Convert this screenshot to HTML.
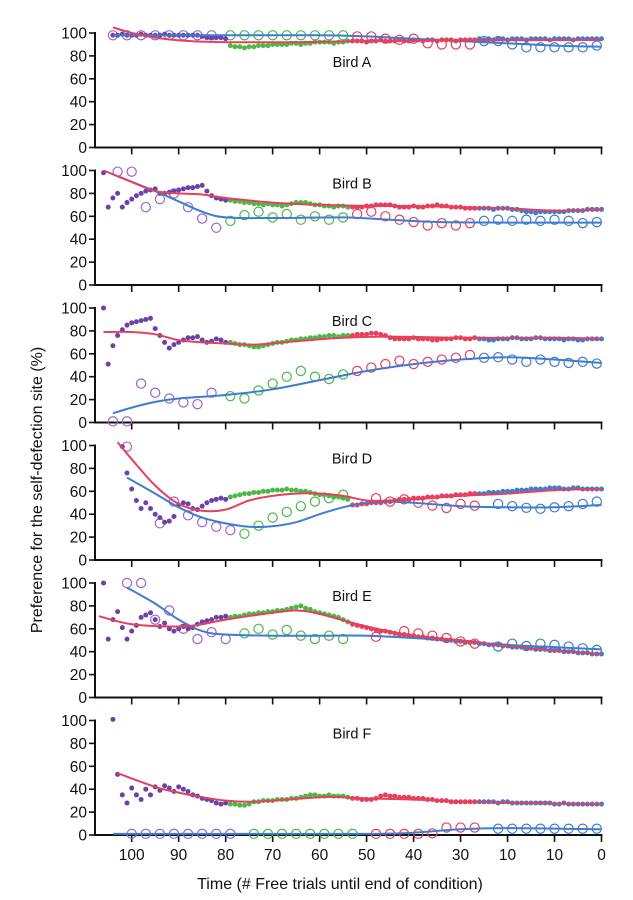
<!DOCTYPE html>
<html><head><meta charset="utf-8">
<style>
html,body{margin:0;padding:0;background:#fff;}
svg{display:block;font-family:"Liberation Sans",sans-serif;}
</style></head>
<body>
<svg id="chart" width="633" height="900" viewBox="0 0 633 900" xmlns="http://www.w3.org/2000/svg">
<text x="0" y="0" transform="translate(42,490) rotate(-90)" text-anchor="middle" font-size="16" fill="#111">Preference for the self-defection site (%)</text>
<text x="340" y="889" text-anchor="middle" font-size="16" fill="#111">Time (# Free trials until end of condition)</text>
</svg>
<script>
const birdNames = ["Bird A","Bird B","Bird C","Bird D","Bird E","Bird F"];
const labelOffsets = [34,18,18,18,18,18];
const xTickValues = [100,90,80,70,60,50,40,30,20,10,0];
const xTickLabels = ["100","90","80","70","60","50","40","30","10","10","0"];
const yTickValues = [0,20,40,60,80,100];
// filled dots: start trial, one value per trial counting down to 0
const dotStart = [104,106,106,102,106,104];
const dotValues = [
[98,98,99,98,98,98,99,98,98,98,98,99,98,98,98,98,98,98,98,97,96,96,96,96,95,
 89,88,88,87,88,88,89,89,89,90,90,90,90,91,91,90,91,91,92,92,92,92,91,92,92,93,
 93,93,93,92,93,93,94,93,93,93,94,93,93,94,94,93,94,94,93,94,94,94,93,94,94,94,94,
 95,94,95,94,95,95,94,95,95,95,94,95,95,95,95,94,95,95,95,95,94,95,95,95,95,95,95],
[98,68,76,80,68,72,75,78,80,82,83,84,80,80,81,82,83,84,85,85,86,87,82,78,76,75,74,
 74,73,73,72,72,71,71,70,71,70,70,69,70,71,72,72,72,71,70,70,69,69,68,69,69,68,
 68,68,68,69,69,70,70,70,70,69,68,68,68,69,68,68,69,69,70,69,69,68,68,68,67,67,67,
 67,67,67,66,67,67,67,66,66,65,64,64,63,64,64,64,64,64,64,65,65,65,65,66,66,66,66],
[100,51,67,76,81,85,87,88,89,90,91,82,76,70,65,68,70,72,74,74,75,72,70,71,73,72,70,
 70,69,68,68,67,66,66,67,68,69,70,70,71,72,72,73,73,74,74,75,75,76,76,75,76,76,
 76,77,77,77,78,78,77,76,74,73,73,73,73,74,73,73,73,72,72,73,73,73,74,74,73,73,74,
 73,73,72,72,73,73,73,74,74,73,73,73,74,74,73,73,73,73,72,73,73,72,72,73,73,73,73],
[99,76,62,52,45,50,45,40,37,33,34,38,48,50,49,45,44,47,50,52,53,54,53,
 55,56,57,58,58,59,59,60,60,61,61,61,62,61,61,60,60,59,58,57,57,56,55,55,54,53,
 48,48,49,49,50,50,50,51,51,52,53,53,53,54,54,54,55,55,55,56,56,56,57,57,57,58,58,
 58,58,59,59,59,60,60,60,61,61,61,62,62,62,62,63,63,63,62,62,63,63,62,62,62,62,62],
[100,51,68,75,61,51,58,63,70,72,74,68,62,65,60,58,60,62,60,61,64,66,67,68,70,70,71,
 70,71,71,72,73,73,74,74,75,75,76,76,77,78,79,80,78,77,75,74,73,72,71,70,68,66,
 64,63,62,61,60,59,58,58,57,56,55,55,54,54,53,53,52,52,51,51,50,50,49,49,48,48,48,
 47,47,46,46,46,45,45,44,44,44,43,43,42,42,42,41,41,41,40,40,40,39,39,39,38,38,38],
[101,53,35,28,41,35,31,40,35,42,39,43,41,38,42,40,38,35,34,32,31,30,28,27,28,
 27,27,26,26,27,29,29,30,30,30,31,31,31,32,32,33,34,35,35,34,34,35,34,34,34,33,
 32,32,31,31,31,32,34,35,34,34,33,33,33,32,32,32,31,31,30,30,30,29,29,29,29,29,29,
 29,29,29,29,28,29,29,28,28,28,28,28,28,28,28,28,27,27,28,27,27,27,27,27,27,27,27]
];
// open circles per phase
const openPurpleT = [[104,101,98,95,92,89,86,83],[103,100,97,94,91,88,85,82],[104,101,98,95,92,89,86,83],[101,94,91,88,85,82,79],[101,98,95,92,89,86,83,80],[100,97,94,91,88,85,82,79]];
const openPurpleV = [[98,98,98,98,98,98,98,98],[99,99,68,75,80,68,58,50],[1,1,34,26,21,17.5,16,26],[99,32,51,39,33,29,26],[100,100,68,76,60,51,57,51],[1,1,1,1,1,1,1,1]];
const openGreenT = [[79,76,73,70,67,64,61,58,55],[79,76,73,70,67,64,61,58,55],[79,76,73,70,67,64,61,58,55],[76,73,70,67,64,61,58,55],[76,73,70,67,64,61,58,55],[74,71,68,65,62,59,56,53]];
const openGreenV = [[98,98,98,98,98,98,98,98,98],[56,61,64,59,62,57,60,57,59],[23,21,28,34,40,45,40,38,42],[23,30,37,42,47,51,54,57],[56,60,55,59,54,51,54,51],[1,1,1,1,1,1,1,1]];
const openRedT = [[52,49,46,43,40,37,34,31,28],[52,49,46,43,40,37,34,31,28],[52,49,46,43,40,37,34,31,28],[48,45,42,39,36,33,30,27],[48,42,39,36,33,30,27],[48,45,42,39,36,33,30,27]];
const openRedV = [[97,97,95,94,95,91,90,90,90],[62,64,60,57,55,52,54,52,54],[45,48,51,54,51,53,55,56.5,59],[54,51,53,50,47.5,45.5,49,47.5],[53,58,56,54,52,49,47],[1,1,1,1,1.5,6.5,6.5,6.5]];
const openBlueT = [[25,22,19,16,13,10,7,4,1],[25,22,19,16,13,10,7,4,1],[25,22,19,16,13,10,7,4,1],[22,19,16,13,10,7,4,1],[22,19,16,13,10,7,4,1],[22,19,16,13,10,7,4,1]];
const openBlueV = [[93,93,90,87.5,87.5,87.5,87.5,87.5,89],[56,57,56,57,56,57,56,54,55],[56.5,57,55,53,55,53,52,53,51.5],[49,47,45.6,44.7,46,47,49,51],[44.5,47,45,47,46,44.5,43,41.5],[5.5,5.5,5.5,5.5,5.5,5.5,5.5,5.5]];
// fitted curves
const redFitT = [[104,100,95,88,80,75,65,50,30,0],[106,100,95,90,85,80,70,60,50,40,30,20,10,0],[106,100,95,90,85,80,74,65,55,45,30,10,0],[103,100,95,90,85,80,75,70,65,60,55,50,45,40,30,20,10,0],[107,100,90,85,80,70,65,60,50,40,30,20,10,0],[103,95,90,85,80,75,70,60,55,50,40,30,20,0]];
const redFitV = [[105,100,96,93,92,92,92,93,93.5,94],[100,90,82,80,79,76,72,70,69,69,68,67,65,66],[79,79,77,72,70,69,68,71,74,75,74,74,73],[103,88,65,49,43,44,52,56,58,58,56,52,52,53,56,58,61,62],[71,64,62,64,68,74,76,73,62,54,50,45,41,38],[54,42,37,33,30,29,30,33,33,32,31,29,28,27]];
const blueFitT = [[104,80,60,50,40,25,10,0],[103,95,90,85,80,70,55,45,35,20,0],[104,100,95,90,80,70,60,50,40,30,20,10,0],[101,95,90,85,80,75,70,65,60,55,50,45,40,30,20,10,0],[101,95,90,85,80,70,60,50,40,30,20,10,0],[104,80,50,40,30,20,0]];
const blueFitV = [[98,98,98,97,95,92,89,88],[95,82,73,64,59,58.5,59,57,55,54.5,54.5],[8,13,18,21,24,29,37,45,51,55,57,55,52],[72,58,46,37,32,29,29.5,33,40,46,50,51,50,47,46,46,48],[96,82,68,58,55,54,54,54,52,49,46,44,42],[1,1,1,2,5,6,5]];

const NS="http://www.w3.org/2000/svg";
const svg=document.getElementById('chart');
const X0=95, XEND=601.5, T0=601.5, PXT=4.698;
function xs(t){return T0 - t*PXT;}
function ys(k,v){return 147.5 + 137.5*k - v*1.145;}
function mk(tag,attrs,parent){const e=document.createElementNS(NS,tag);for(const a in attrs)e.setAttribute(a,attrs[a]);(parent||svg).appendChild(e);return e;}
const COL={purpleDot:"#6c42aa",purpleOpen:"#9a66d0",green:"#4cb848",red:"#e5405e",blue:"#3f7cce"};
function phaseColor(t){return t>=80?COL.purpleDot:(t>=54?COL.green:(t>=27?COL.red:COL.blue));}
function smoothPath(pts){
  let d="M"+pts[0][0].toFixed(1)+","+pts[0][1].toFixed(1);
  for(let i=0;i<pts.length-1;i++){
    const p0=pts[i-1]||pts[i],p1=pts[i],p2=pts[i+1],p3=pts[i+2]||p2;
    const c1=[p1[0]+(p2[0]-p0[0])/6,p1[1]+(p2[1]-p0[1])/6];
    const c2=[p2[0]-(p3[0]-p1[0])/6,p2[1]-(p3[1]-p1[1])/6];
    d+=" C"+c1[0].toFixed(1)+","+c1[1].toFixed(1)+" "+c2[0].toFixed(1)+","+c2[1].toFixed(1)+" "+p2[0].toFixed(1)+","+p2[1].toFixed(1);
  }
  return d;
}
for(let k=0;k<6;k++){
  const g=mk('g',{});
  
  
  const ya=mk('line',{x1:X0,y1:ys(k,100)-1,x2:X0,y2:ys(k,0),stroke:"#111","stroke-width":2},g);
  
  
  const xa=mk('line',{x1:X0-1,y1:ys(k,0),x2:XEND+1,y2:ys(k,0),stroke:"#111","stroke-width":2},g);
  
  
  yTickValues.forEach(v=>{
    mk('line',{x1:X0-6,y1:ys(k,v),x2:X0,y2:ys(k,v),stroke:"#111","stroke-width":1.6},g);
    const tx=mk('text',{x:X0-8,y:ys(k,v)+5.5,"text-anchor":"end","font-size":15.5,fill:"#111"},g);
    tx.textContent=v;
    
    
  });
  xTickValues.forEach((t,i)=>{
    mk('line',{x1:xs(t),y1:ys(k,0),x2:xs(t),y2:ys(k,0)+7,stroke:"#111","stroke-width":1.6},g);
    if(k===5){
      const tx=mk('text',{x:xs(t),y:ys(k,0)+25,"text-anchor":"middle","font-size":15.5,fill:"#111"},g);
      tx.textContent=xTickLabels[i];
      
      
    }
  });
  const lbl=mk('text',{x:352,y:ys(k,100)+labelOffsets[k],"text-anchor":"middle","font-size":14.5,fill:"#111"},g);
  lbl.textContent=birdNames[k];
  
  
  const sets=[[openPurpleT,openPurpleV,COL.purpleOpen],[openGreenT,openGreenV,COL.green],[openRedT,openRedV,COL.red],[openBlueT,openBlueV,COL.blue]];
  sets.forEach(s=>{
    s[0][k].forEach((t,i)=>{
      const c=mk('circle',{cx:xs(t),cy:ys(k,s[1][k][i]),r:4.6,fill:"none",stroke:s[2],"stroke-width":1.2},g);
      
      
    });
  });
  dotValues[k].forEach((v,i)=>{
    const t=dotStart[k]-i;
    const c=mk('circle',{cx:xs(t),cy:ys(k,v),r:2.5,fill:phaseColor(t)},g);
    
    
  });
  const bp=blueFitT[k].map((t,i)=>[xs(t),ys(k,blueFitV[k][i])]);
  const bl=mk('path',{d:smoothPath(bp),fill:"none",stroke:COL.blue,"stroke-width":2},g);
  
  
  const rp=redFitT[k].map((t,i)=>[xs(t),ys(k,redFitV[k][i])]);
  const rl=mk('path',{d:smoothPath(rp),fill:"none",stroke:COL.red,"stroke-width":2},g);
  
  
}
</script>
</body></html>
